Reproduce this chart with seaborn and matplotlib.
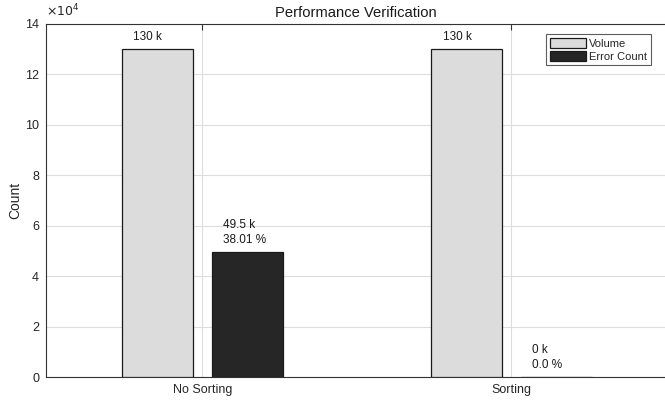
import pandas as pd
import seaborn as sns
import matplotlib.pyplot as plt
from matplotlib.ticker import FuncFormatter

methods = ["No Sorting", "Sorting"]
volume = [130200, 130200]
errors = [49490, 0]
volume_labels = ["130 k", "130 k"]
error_labels = ["49.5 k\n38.01 %", "0 k\n0.0 %"]
series = ["Volume", "Error Count"]

df = pd.DataFrame({
    "method": methods * 2,
    "count": volume + errors,
    "series": [series[0]] * 2 + [series[1]] * 2,
})

sns.set_style("white")
plt.rcParams["font.family"] = ["Liberation Sans", "DejaVu Sans"]

fig = plt.figure(figsize=(6.65, 4.03), dpi=100)
# right edge of the axes runs just past the image, as in the reference
ax = fig.add_axes([46 / 665, 26 / 403, 620 / 665, 353 / 403])

sns.barplot(data=df, x="method", y="count", hue="series", order=methods,
            hue_order=series, palette=["#dcdcdc", "#262626"], width=0.58,
            gap=0.21, edgecolor="#1a1a1a", linewidth=0.9, saturation=1,
            ax=ax, zorder=3)

ax.set_xlim(-0.506, 1.5)
ax.set_ylim(0, 140000)
ax.set_yticks(range(0, 140001, 20000))
ax.yaxis.set_major_formatter(FuncFormatter(lambda v, p: f"{v/1e4:.0f}"))
ax.grid(True, color="#dddddd", linewidth=0.8, zorder=0)
ax.set_axisbelow(True)
for s in ax.spines.values():
    s.set_color("#333333")
    s.set_linewidth(0.8)
ax.tick_params(direction="in", length=4, width=0.8, color="#333333",
               labelsize=9, top=True, right=False, labelcolor="#262626")
ax.tick_params(axis="x", pad=5)
ax.tick_params(axis="y", pad=5)
ax.set_xlabel("")
ax.set_ylabel("Count", fontsize=10, labelpad=2)
ax.set_title("Performance Verification", fontsize=10.6, pad=5, color="#1a1a1a")
ax.text(0.0, 1.012, r"$\times10^{4}$", transform=ax.transAxes, fontsize=9,
        ha="left", va="bottom", color="#262626")

# annotations, left-aligned slightly left of each bar centre
bars = ax.patches[:4]
labels = volume_labels + error_labels
for b, lab in zip(bars, labels):
    xc = b.get_x() + b.get_width() / 2
    ax.text(xc - 0.078, b.get_height() + 2300, lab, ha="left", va="bottom",
            fontsize=8.5, linespacing=1.35, color="#1a1a1a")

leg = ax.legend(loc="upper right", bbox_to_anchor=(0.976, 0.972), fontsize=8,
                frameon=True, fancybox=False, handlelength=3.2, handleheight=1.0,
                handletextpad=0.3, borderpad=0.35, labelspacing=0.2,
                borderaxespad=0)
leg.get_frame().set_edgecolor("#333333")
leg.get_frame().set_linewidth(0.8)
leg.set_title(None)

fig.savefig("out.png", dpi=100)
